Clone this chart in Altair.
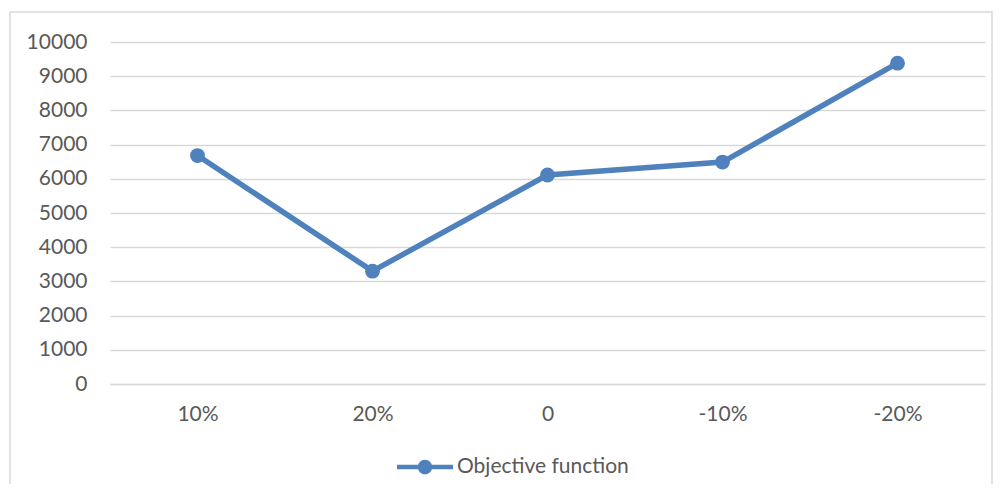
import altair as alt
import pandas as pd

categories = ["10%", "20%", "0", "-10%", "-20%"]
values = [6680, 3300, 6110, 6490, 9380]
series_name = "Objective function"

df = pd.DataFrame({"cat": categories, "value": values, "series": [series_name] * len(categories)})

color = "#4F81BD"
font = "Lato"
fs = 21

legend_path = ("M-1,-0.08 L1,-0.08 L1,0.08 L-1,0.08 Z "
               "M-0.26,0 A0.26,0.26 0 1,1 0.26,0 A0.26,0.26 0 1,1 -0.26,0 Z")

base = alt.Chart(df).encode(
    x=alt.X("cat:N", sort=categories, title=None,
            scale=alt.Scale(type="point", padding=0.5),
            axis=alt.Axis(labelAngle=0, ticks=False, domain=True, domainColor="#d9d9d9",
                          domainWidth=1.5, grid=False, labelPadding=19,
                          labelFontSize=fs, labelColor="#595959", labelFont=font)),
    y=alt.Y("value:Q", title=None,
            scale=alt.Scale(domain=[0, 10000]),
            axis=alt.Axis(values=list(range(0, 10001, 1000)), format="d", ticks=False, domain=False,
                          grid=True, gridColor="#d9d9d9", gridWidth=1.5, labelPadding=23,
                          labelFontSize=fs, labelColor="#595959", labelFont=font)),
    color=alt.Color("series:N", scale=alt.Scale(range=[color]),
                    legend=alt.Legend(title=None, orient="none", legendX=287, legendY=397,
                                      symbolType=legend_path, symbolSize=3136,
                                      symbolStrokeWidth=0, symbolFillColor=color,
                                      labelFontSize=fs, labelColor="#595959", labelLimit=400,
                                      labelFont=font, labelOffset=4, padding=0)),
)

line = base.mark_line(strokeWidth=5.5)
points = base.mark_point(filled=True, size=220, opacity=1, shape="circle")

border = alt.Chart(pd.DataFrame({"a": [0]})).mark_rect(
    fill=None, stroke="#d9d9d9", strokeWidth=1.5
).encode(
    x=alt.value(-100), x2=alt.value(882),
    y=alt.value(-30), y2=alt.value(470),
)

chart = alt.layer(border, line, points).properties(
    width=875, height=342,
    autosize=alt.AutoSizeParams(type="none"),
    padding={"left": 102, "top": 34, "right": 8, "bottom": 100},
).configure_view(stroke=None)

chart.save("out.html", embed_options={"renderer": "svg", "actions": False})
